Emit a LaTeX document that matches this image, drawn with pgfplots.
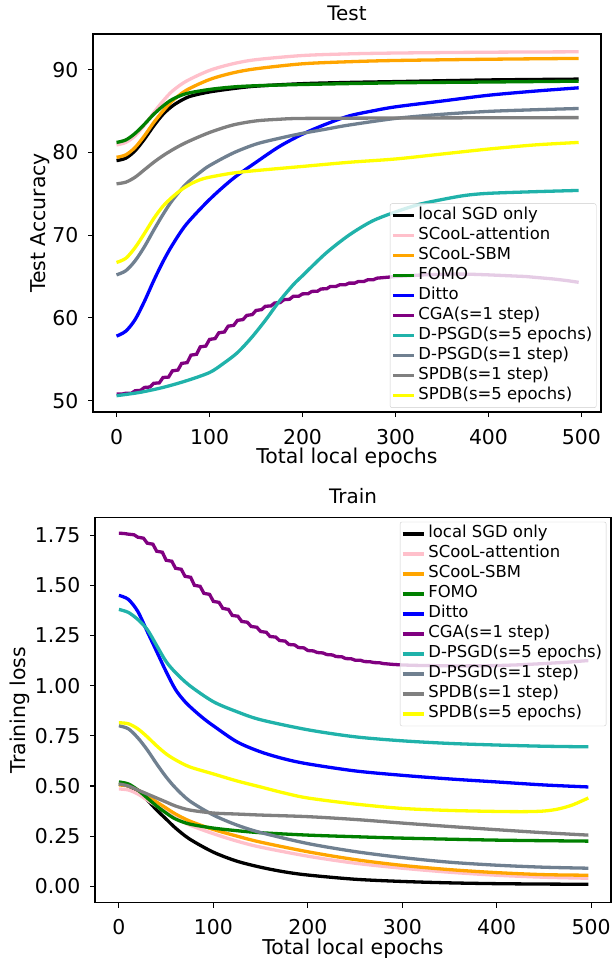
\documentclass[border=0pt]{standalone}
\usepackage{pgfplots}
\pgfplotsset{compat=1.18}
\usepackage{fontspec}
\setmainfont{DejaVu Sans}
\definecolor{cpink}{HTML}{FFC0CB}
\definecolor{corange}{HTML}{FFA500}
\definecolor{cgreen}{HTML}{008000}
\definecolor{cblue}{HTML}{0000FF}
\definecolor{cpurple}{HTML}{800080}
\definecolor{cteal}{HTML}{20B2AA}
\definecolor{cslate}{HTML}{708090}
\definecolor{cgray}{HTML}{808080}
\definecolor{cyellow}{HTML}{FFFF00}
\pgfplotsset{
  myaxis/.style={
    scale only axis,
    axis line style={line width=1.1bp},
    every tick/.style={black, line width=1.1bp},
    tick align=outside,
    major tick length=5bp,
    xtick pos=lower, ytick pos=left,
    tick label style={font=\fontsize{20.5}{24}\selectfont},
    /pgf/number format/assume math mode=true,
    label style={font=\fontsize{20.5}{24}\selectfont},
    title style={font=\fontsize{20}{24}\selectfont, anchor=base, at={(axis description cs:0.5,1)}, yshift=8bp},
    xlabel style={at={(axis description cs:0.5,0)}, anchor=base, yshift=-51.5bp},
    xticklabel style={anchor=base, inner sep=0pt, yshift=-27bp},
    yticklabel style={anchor=east, inner sep=0pt, xshift=-9.5bp},
    every axis plot/.append style={line width=3.3bp, smooth, tension=0.5},
    xmin=-25.3, xmax=521,
    xtick={0,100,200,300,400,500},
    legend cell align=left,
    legend image code/.code={\draw[##1,sharp plot] (0bp,0bp) -- (21bp,0bp);},
    legend style={
      font=\fontsize{16.5}{19}\selectfont,
      draw=black!20, fill=white, fill opacity=0.8, text opacity=1, draw opacity=1,
      rounded corners=2bp, inner xsep=1bp, inner ysep=2bp,
      row sep=0bp,
      nodes={inner xsep=3bp, inner ysep=2bp, text height=12bp, text depth=4bp},
    },
  }
}
\begin{document}
\begin{tikzpicture}[x=1bp,y=1bp]
\path[use as bounding box] (0,0) rectangle (615,-958);
% ---------------- Test ----------------
\begin{axis}[myaxis,
  at={(93bp,-412bp)}, anchor=south west,
  width=508bp, height=378bp,
  ymin=48.63, ymax=94.3,
  ytick={50,60,70,80,90},
  title={Test}, xlabel={Total local epochs}, ylabel={Test Accuracy},
  ylabel style={at={(axis description cs:-0.1043,0.5)}, anchor=center},
  legend style={at={(rel axis cs:0.991,0.011)}, anchor=south east},
]
\addplot[black] coordinates {(0,79.0)(10,79.3)(20,80.2)(30,81.6)(40,83.2)(50,84.6)(60,85.6)(70,86.3)(80,86.8)(100,87.3)(125,87.7)(150,88.0)(200,88.3)(250,88.45)(300,88.55)(400,88.75)(497,88.85)};
\addlegendentry{local SGD only}
\addplot[cpink] coordinates {(0,80.9)(10,81.2)(20,82.0)(30,83.3)(40,84.8)(50,86.2)(60,87.4)(75,88.6)(100,89.9)(125,90.7)(150,91.2)(200,91.7)(250,91.9)(300,92.0)(400,92.1)(497,92.15)};
\addlegendentry{SCooL-attention}
\addplot[corange] coordinates {(0,79.4)(10,79.7)(20,80.6)(30,82.0)(40,83.6)(50,85.0)(60,86.2)(75,87.5)(100,88.8)(125,89.6)(150,90.1)(200,90.7)(250,90.95)(300,91.1)(400,91.25)(497,91.35)};
\addlegendentry{SCooL-SBM}
\addplot[cgreen] coordinates {(0,81.2)(10,81.5)(20,82.3)(30,83.4)(40,84.6)(50,85.6)(60,86.4)(75,87.1)(100,87.6)(125,87.9)(150,88.05)(200,88.2)(300,88.4)(400,88.5)(497,88.6)};
\addlegendentry{FOMO}
\addplot[cblue] coordinates {(0,57.8)(10,58.4)(20,59.8)(30,62.0)(40,64.5)(50,66.8)(60,68.8)(75,71.3)(100,74.3)(125,76.8)(150,78.8)(175,80.7)(200,82.2)(225,83.4)(250,84.4)(275,85.0)(300,85.5)(350,86.2)(400,86.9)(450,87.4)(497,87.8)};
\addlegendentry{Ditto}
\addplot[cpurple, sharp plot] coordinates {(0,50.8)(6,50.8)(10,50.9)(16,50.9)(20,51.2)(26,51.25)(30,51.6)(36,51.65)(40,52.1)(46,52.15)(50,52.8)(56,52.85)(60,53.6)(66,53.7)(70,54.5)(76,54.6)(80,55.5)(86,55.6)(90,56.5)(96,56.6)(100,57.4)(106,57.5)(110,58.2)(116,58.3)(120,59.0)(126,59.1)(130,59.7)(136,59.8)(140,60.3)(146,60.4)(150,60.9)(156,61.0)(160,61.4)(166,61.45)(170,61.8)(176,61.85)(180,62.2)(186,62.25)(190,62.6)(196,62.62)(200,62.9)(206,62.92)(210,63.2)(216,63.22)(220,63.5)(226,63.52)(230,63.8)(236,63.8)(240,64.0)(246,64.0)(250,64.2)(256,64.2)(260,64.4)(266,64.4)(270,64.6)(276,64.6)(280,64.8)(290,64.9)(300,65.0)(315,65.1)(330,65.2)(345,65.25)(360,65.3)(380,65.28)(400,65.2)(420,65.1)(440,65.0)(455,64.85)(470,64.7)(485,64.5)(497,64.3)};
\addlegendentry{CGA(s=1 step)}
\addplot[cteal] coordinates {(0,50.6)(25,51.0)(50,51.6)(75,52.4)(100,53.4)(115,54.5)(130,55.8)(145,57.6)(160,59.7)(175,62.0)(190,64.0)(200,65.1)(225,67.8)(250,70.0)(275,71.7)(300,72.8)(325,73.7)(350,74.3)(375,74.8)(400,75.05)(450,75.25)(497,75.4)};
\addlegendentry{D-PSGD(s=5 epochs)}
\addplot[cslate] coordinates {(0,65.2)(10,65.7)(20,66.9)(30,68.6)(40,70.6)(50,72.5)(60,74.2)(75,76.2)(90,77.6)(100,78.4)(125,79.9)(150,81.0)(175,81.7)(200,82.3)(225,82.8)(250,83.3)(300,84.1)(350,84.6)(400,84.95)(450,85.15)(497,85.3)};
\addlegendentry{D-PSGD(s=1 step)}
\addplot[cgray] coordinates {(0,76.2)(10,76.4)(20,77.0)(30,77.9)(40,78.8)(50,79.6)(60,80.3)(75,81.2)(100,82.4)(125,83.3)(150,83.8)(175,84.0)(200,84.1)(300,84.15)(497,84.2)};
\addlegendentry{SPDB(s=1 step)}
\addplot[cyellow] coordinates {(0,66.7)(10,67.2)(20,68.5)(30,70.2)(40,72.0)(50,73.5)(60,74.6)(70,75.5)(80,76.2)(90,76.7)(100,77.0)(125,77.5)(150,77.8)(200,78.3)(250,78.8)(300,79.2)(350,79.8)(400,80.4)(450,80.9)(497,81.2)};
\addlegendentry{SPDB(s=5 epochs)}
\end{axis}
% ---------------- Train ----------------
\begin{axis}[myaxis,
  at={(95bp,-902.5bp)}, anchor=south west,
  width=516bp, height=385bp,
  ymin=-0.081, ymax=1.838,
  ytick={0,0.25,0.5,0.75,1,1.25,1.5,1.75},
  yticklabel style={/pgf/number format/.cd, fixed, fixed zerofill, precision=2},
  title={Train}, xlabel={Total local epochs}, ylabel={Training loss},
  ylabel style={at={(axis description cs:-0.1453,0.5)}, anchor=center},
  legend style={at={(rel axis cs:0.991,0.989)}, anchor=north east},
]
\addplot[black] coordinates {(0,0.51)(10,0.50)(20,0.47)(30,0.43)(40,0.38)(50,0.335)(60,0.29)(75,0.235)(100,0.17)(125,0.125)(150,0.095)(175,0.072)(200,0.056)(250,0.035)(300,0.024)(350,0.017)(400,0.013)(450,0.011)(497,0.01)};
\addlegendentry{local SGD only}
\addplot[cpink] coordinates {(0,0.485)(10,0.48)(20,0.46)(30,0.43)(40,0.40)(50,0.37)(60,0.34)(75,0.305)(100,0.262)(125,0.225)(150,0.195)(200,0.15)(250,0.115)(300,0.09)(350,0.07)(400,0.055)(450,0.045)(497,0.04)};
\addlegendentry{SCooL-attention}
\addplot[corange] coordinates {(0,0.505)(10,0.50)(20,0.48)(30,0.45)(40,0.42)(50,0.39)(60,0.36)(75,0.325)(100,0.283)(125,0.25)(150,0.22)(200,0.172)(250,0.133)(300,0.104)(350,0.083)(400,0.068)(450,0.058)(497,0.055)};
\addlegendentry{SCooL-SBM}
\addplot[cgreen] coordinates {(0,0.52)(10,0.51)(20,0.48)(30,0.44)(40,0.40)(50,0.365)(60,0.335)(75,0.31)(100,0.29)(125,0.277)(150,0.267)(200,0.255)(250,0.247)(300,0.24)(400,0.23)(497,0.225)};
\addlegendentry{FOMO}
\addplot[cblue] coordinates {(0,1.45)(10,1.43)(20,1.37)(30,1.27)(40,1.17)(50,1.07)(60,0.98)(70,0.92)(80,0.875)(90,0.835)(100,0.80)(125,0.72)(150,0.67)(175,0.635)(200,0.61)(250,0.575)(300,0.553)(350,0.535)(400,0.52)(450,0.505)(497,0.495)};
\addlegendentry{Ditto}
\addplot[cpurple, sharp plot] coordinates {(0,1.76)(6,1.758)(10,1.755)(16,1.752)(20,1.74)(26,1.735)(30,1.71)(36,1.705)(40,1.67)(46,1.665)(50,1.625)(56,1.62)(60,1.585)(66,1.58)(70,1.545)(76,1.54)(80,1.50)(86,1.495)(90,1.46)(96,1.455)(100,1.42)(106,1.415)(110,1.385)(116,1.38)(120,1.35)(126,1.346)(130,1.32)(136,1.316)(140,1.295)(146,1.291)(150,1.27)(156,1.266)(160,1.245)(166,1.242)(170,1.225)(176,1.222)(180,1.205)(186,1.203)(190,1.19)(196,1.188)(200,1.175)(206,1.173)(210,1.165)(216,1.163)(220,1.155)(226,1.153)(230,1.145)(236,1.144)(240,1.135)(246,1.134)(250,1.127)(256,1.126)(260,1.12)(266,1.119)(270,1.115)(276,1.114)(280,1.11)(290,1.106)(300,1.103)(315,1.101)(330,1.10)(345,1.099)(360,1.098)(380,1.099)(400,1.10)(425,1.104)(450,1.11)(475,1.117)(497,1.125)};
\addlegendentry{CGA(s=1 step)}
\addplot[cteal] coordinates {(0,1.38)(10,1.365)(20,1.33)(30,1.28)(40,1.20)(50,1.12)(60,1.065)(75,1.0)(100,0.92)(125,0.87)(150,0.83)(200,0.78)(250,0.745)(300,0.725)(350,0.712)(400,0.704)(450,0.698)(497,0.695)};
\addlegendentry{D-PSGD(s=5 epochs)}
\addplot[cslate] coordinates {(0,0.80)(10,0.785)(20,0.74)(30,0.68)(40,0.61)(50,0.545)(60,0.49)(75,0.425)(100,0.355)(125,0.305)(150,0.268)(200,0.213)(250,0.173)(300,0.143)(350,0.12)(400,0.105)(450,0.095)(497,0.09)};
\addlegendentry{D-PSGD(s=1 step)}
\addplot[cgray] coordinates {(0,0.51)(10,0.50)(20,0.48)(30,0.46)(40,0.44)(50,0.42)(60,0.40)(75,0.38)(100,0.365)(125,0.36)(150,0.355)(200,0.347)(250,0.333)(300,0.315)(350,0.298)(400,0.282)(450,0.267)(497,0.255)};
\addlegendentry{SPDB(s=1 step)}
\addplot[cyellow] coordinates {(0,0.815)(10,0.81)(20,0.785)(30,0.745)(40,0.70)(50,0.66)(60,0.63)(75,0.595)(100,0.56)(125,0.525)(150,0.495)(175,0.465)(200,0.44)(250,0.41)(300,0.388)(350,0.378)(400,0.373)(430,0.372)(450,0.375)(465,0.385)(480,0.405)(497,0.44)};
\addlegendentry{SPDB(s=5 epochs)}
\end{axis}
\end{tikzpicture}
\end{document}
